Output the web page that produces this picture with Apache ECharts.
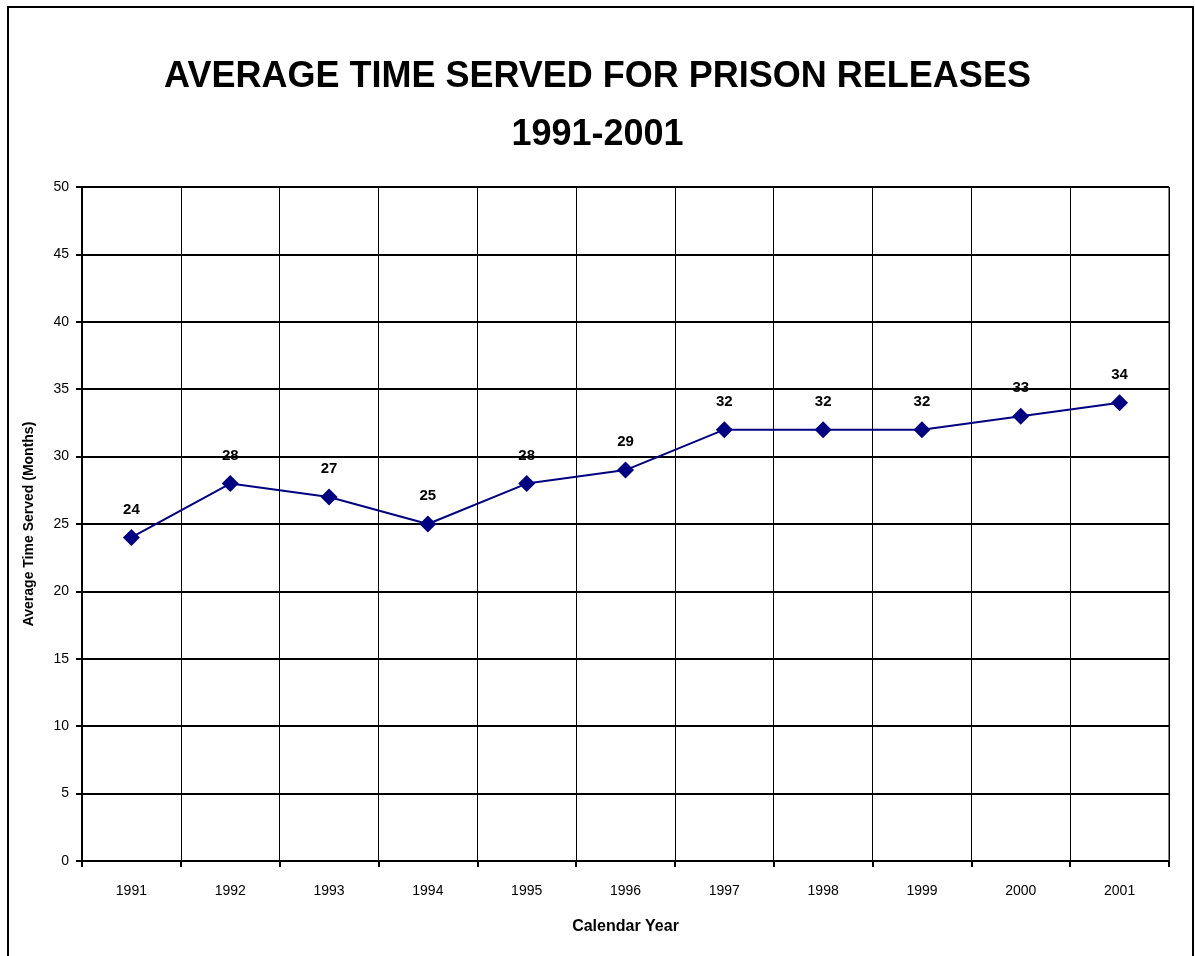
<!DOCTYPE html>
<html>
<head>
<meta charset="utf-8">
<script src="https://cdn.jsdelivr.net/npm/echarts@6/dist/echarts.min.js"></script>
<style>
html, body { margin: 0; padding: 0; background: #fff; }
#chart { width: 1195px; height: 956px; }
</style>
</head>
<body>
<div id="chart"></div>
<script>
// chart data
var years = ['1991', '1992', '1993', '1994', '1995', '1996', '1997', '1998', '1999', '2000', '2001'];
var avgMonths = [24, 28, 27, 25, 28, 29, 32, 32, 32, 33, 34];

var font = 'Liberation Sans, Arial, sans-serif';
var myChart = echarts.init(document.getElementById('chart'));
myChart.setOption({
  backgroundColor: '#fff',
  animation: false,
  title: {
    text: 'AVERAGE TIME SERVED FOR PRISON RELEASES\n1991-2001',
    left: 'center',
    top: 43,
    textStyle: {
      fontFamily: font,
      fontSize: 36,
      fontWeight: 'bold',
      color: '#000',
      lineHeight: 58
    }
  },
  graphic: [{
    type: 'rect',
    shape: { x: 8, y: 7, width: 1185, height: 970 },
    style: { fill: 'none', stroke: '#000', lineWidth: 2 },
    silent: true
  }],
  grid: {
    left: 82,
    right: 26,
    top: 187,
    bottom: 95,
    show: true,
    borderColor: '#000',
    borderWidth: 1
  },
  xAxis: {
    type: 'category',
    data: years,
    boundaryGap: true,
    name: 'Calendar Year',
    nameLocation: 'middle',
    nameGap: 58,
    nameTextStyle: { fontFamily: font, fontSize: 16, fontWeight: 'bold', color: '#000' },
    axisLine: { lineStyle: { color: '#000', width: 2 } },
    axisTick: { show: true, length: 6, lineStyle: { color: '#000', width: 2 } },
    axisLabel: { fontFamily: font, fontSize: 14, color: '#000', margin: 23 },
    splitLine: { show: true, interval: 0, lineStyle: { color: '#000', width: 1 } }
  },
  yAxis: {
    type: 'value',
    min: 0,
    max: 50,
    interval: 5,
    name: 'Average Time Served (Months)',
    nameLocation: 'middle',
    nameGap: 46,
    nameTextStyle: { fontFamily: font, fontSize: 14, fontWeight: 'bold', color: '#000' },
    axisLine: { show: true, lineStyle: { color: '#000', width: 2 } },
    axisTick: { show: true, length: 6, lineStyle: { color: '#000', width: 2 } },
    axisLabel: { fontFamily: font, fontSize: 14, color: '#000', margin: 13 },
    splitLine: { show: true, lineStyle: { color: '#000', width: 2 } }
  },
  series: [{
    name: 'Average Time Served',
    type: 'line',
    data: avgMonths,
    symbol: 'diamond',
    symbolSize: 17,
    lineStyle: { color: '#000080', width: 2 },
    itemStyle: { color: '#000080' },
    label: {
      show: true,
      position: 'top',
      distance: 12,
      fontFamily: font,
      fontSize: 15,
      fontWeight: 'bold',
      color: '#000'
    }
  }]
});
</script>
</body>
</html>
